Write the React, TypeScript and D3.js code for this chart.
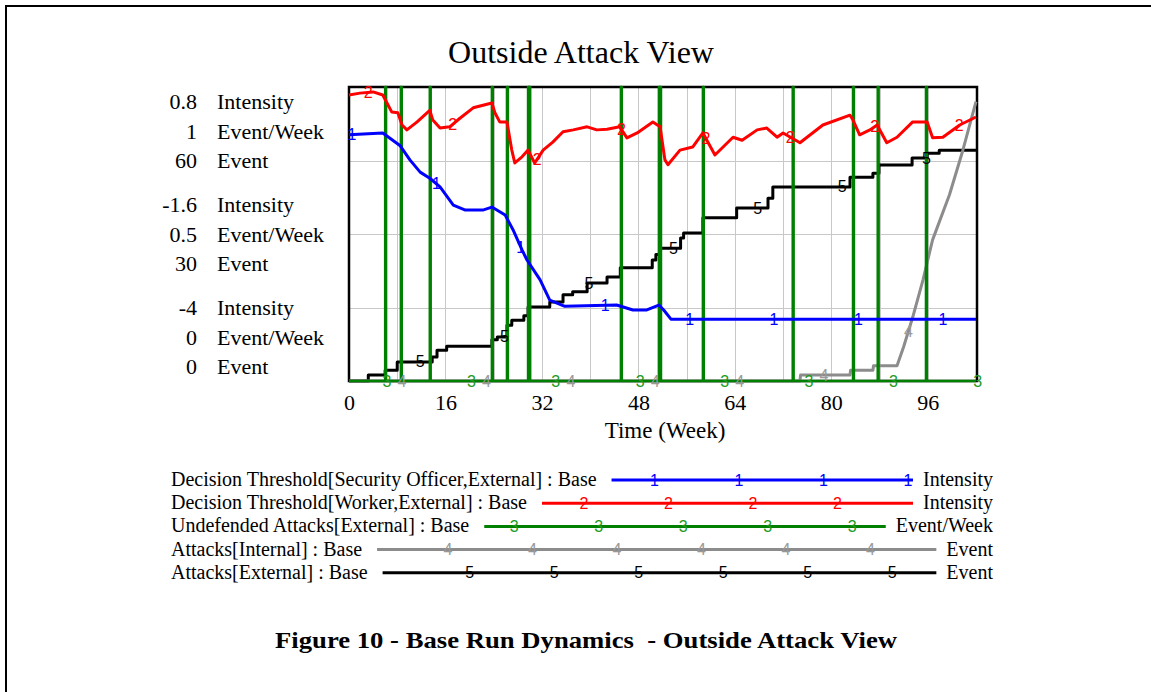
import React, { useEffect, useRef } from "react";
import * as d3 from "d3";

type Pt = [number, number];

// time axis (weeks)
const weekTicks = [0, 16, 32, 48, 64, 80, 96];
const weekEnd = 104;

// left axis: three stacked scales
const intensityTicks = ["0.8", "-1.6", "-4"];
const rateTicks = ["1", "0.5", "0"];
const eventTicks = ["60", "30", "0"];
const axisUnits = ["Intensity", "Event/Week", "Event"];

// 1: Decision Threshold[Security Officer,External] (Intensity)
const officerThreshold: Pt[] = [
  [0, 0.02], [5.6, 0.05], [8.5, -0.16], [10.1, -0.39], [11.8, -0.59], [13.4, -0.69],
  [15.1, -0.83], [17.3, -1.13], [19.3, -1.21], [22.2, -1.21], [23.7, -1.16], [25.9, -1.29],
  [27.2, -1.53], [28.7, -1.86], [29.5, -2.02], [31.7, -2.35], [33.3, -2.68], [35.8, -2.78],
  [44.4, -2.76], [47.1, -2.84], [49.4, -2.84], [51.4, -2.76], [52.2, -2.84], [53.4, -2.99],
  [104, -2.99],
];

// 2: Decision Threshold[Worker,External] (Intensity)
const workerThreshold: Pt[] = [
  [0, 0.67], [1.8, 0.7], [4.0, 0.72], [5.6, 0.67], [6.3, 0.54], [7.1, 0.39], [8.1, 0.38],
  [8.8, 0.18], [9.6, 0.1], [11.3, 0.23], [13.4, 0.42], [13.9, 0.26], [15.1, 0.13], [16.7, 0.15],
  [18.4, 0.29], [20.6, 0.46], [23.7, 0.54], [24.2, 0.38], [25.0, 0.23], [26.2, 0.23],
  [27.0, -0.23], [27.5, -0.44], [28.7, -0.34], [29.7, -0.23], [30.8, -0.44], [32.2, -0.23],
  [33.8, -0.1], [35.5, 0.07], [37.2, 0.1], [39.5, 0.15], [41.1, 0.1], [42.8, 0.11], [44.9, 0.15],
  [46.1, -0.03], [47.8, 0.05], [50.4, 0.23], [51.6, 0.15], [52.4, -0.39], [52.9, -0.47],
  [54.9, -0.23], [57.0, -0.18], [58.7, 0.05], [60.7, -0.31], [63.7, -0.02], [65.2, -0.07],
  [67.7, 0.1], [69.3, 0.13], [71.0, -0.02], [72.0, 0.05], [74.8, -0.11], [78.6, 0.18],
  [83.1, 0.34], [83.6, 0.26], [84.7, 0.02], [86.4, 0.1], [87.6, 0.18], [89.2, -0.11],
  [90.9, -0.02], [93.5, 0.23], [95.9, 0.23], [96.8, -0.03], [98.5, -0.02], [101.3, 0.18],
  [104, 0.31],
];

// 3: Undefended Attacks[External] (Event/Week) - weeks with a one-step spike
const undefendedWeeks = [6.0, 8.6, 13.4, 23.7, 26.2, 29.7, 29.9, 45.1, 51.4, 51.6, 58.7, 73.6, 83.6, 87.7, 95.7];
const undefendedPeak = 1;

// 4: Attacks[Internal] (Event)
const attacksInternal: Pt[] = [
  [0, 0], [74.8, 0], [74.9, 1.2], [83.1, 1.2], [83.2, 2.2], [86.9, 2.2], [87.0, 3.1],
  [90.9, 3.1], [92.0, 7], [93.5, 13], [95.2, 20.6], [96.8, 28.8], [99.6, 38],
  [101.8, 47], [104, 57],
];

// 5: Attacks[External] (Event), stepwise
const attacksExternal: Pt[] = [
  [0, 0], [3.2, 1.2], [6.0, 2.2], [8.0, 3.9], [13.8, 4.9], [14.6, 6.3], [16.2, 7.1],
  [23.7, 8.4], [24.6, 9], [26.2, 11.4], [27.0, 12.4], [29.0, 13.3], [29.7, 15.1],
  [33.3, 16.1], [35.5, 17.6], [37.1, 18.2], [39.5, 20], [42.8, 21.2], [45.0, 23.1],
  [50.3, 24.7], [50.9, 25.8], [51.5, 27.1], [55.0, 29.2], [55.5, 30.2], [58.7, 33.3],
  [64.3, 35.3], [69.5, 37.3], [70.3, 39.6], [83.1, 41.6], [86.9, 42.4], [87.9, 44.1],
  [93.4, 45.5], [95.9, 46.5], [97.9, 47.1], [104, 47.1],
];

const legendNames = [
  "Decision Threshold[Security Officer,External] : Base",
  "Decision Threshold[Worker,External] : Base",
  "Undefended Attacks[External] : Base",
  "Attacks[Internal] : Base",
  "Attacks[External] : Base",
];
const legendUnits = ["Intensity", "Intensity", "Event/Week", "Event", "Event"];

const W = 1151;
const H = 692;
const serif = "'Liberation Serif', 'Times New Roman', serif";
const sans = "'Liberation Sans', Arial, sans-serif";

function valueAt(pts: Pt[], w: number, step: boolean) {
  for (let i = 0; i < pts.length - 1; i++) {
    const [x0, y0] = pts[i];
    const [x1, y1] = pts[i + 1];
    if (w >= x0 && w <= x1) {
      if (step) return w < x1 ? y0 : y1;
      return y0 + ((w - x0) / (x1 - x0 || 1)) * (y1 - y0);
    }
  }
  return pts[pts.length - 1][1];
}

export default function App() {
  const ref = useRef<SVGSVGElement>(null);

  useEffect(() => {
    const svg = d3.select(ref.current);
    svg.selectAll("*").remove();

    const left = 349, right = 977, top = 87, bottom = 381;
    const x = d3.scaleLinear().domain([0, weekEnd]).range([left, right - 1]);
    const yIntensity = d3.scaleLinear().domain([-4, 0.8]).range([bottom, top]);
    const yRate = d3.scaleLinear().domain([0, 1]).range([bottom, top]);
    const yEvent = d3.scaleLinear().domain([0, 60]).range([bottom, top]);

    // page frame (top and left edges)
    svg.append("line").attr("x1", 5).attr("x2", W).attr("y1", 6).attr("y2", 6)
      .attr("stroke", "#000").attr("stroke-width", 2);
    svg.append("line").attr("x1", 6).attr("x2", 6).attr("y1", 5).attr("y2", H)
      .attr("stroke", "#000").attr("stroke-width", 2);

    svg.append("text").attr("x", 581).attr("y", 63).attr("text-anchor", "middle")
      .style("font-family", serif).style("font-size", "32px").text("Outside Attack View");

    // grid
    const grid = svg.append("g").attr("stroke", "#c8c8c8").attr("stroke-width", 1);
    grid.selectAll("line.v").data(d3.range(8, weekEnd, 8)).join("line")
      .attr("class", "v")
      .attr("x1", (d) => Math.round(x(d)) + 0.5).attr("x2", (d) => Math.round(x(d)) + 0.5)
      .attr("y1", top).attr("y2", bottom);
    grid.selectAll("line.h").data([0.25, 0.5, 0.75]).join("line")
      .attr("class", "h")
      .attr("x1", left).attr("x2", right)
      .attr("y1", (d) => Math.round(yRate(d)) + 0.5).attr("y2", (d) => Math.round(yRate(d)) + 0.5);

    svg.append("rect").attr("x", left).attr("y", top).attr("width", right - left).attr("height", bottom - top)
      .attr("fill", "none").attr("stroke", "#000").attr("stroke-width", 2.5);

    // x axis
    const xAxis = svg.append("g").attr("transform", `translate(0,${bottom})`)
      .call(d3.axisBottom(x).tickValues(weekTicks).tickSize(0).tickPadding(13).tickFormat(d3.format("d")));
    xAxis.select(".domain").remove();
    xAxis.selectAll("text").style("font-family", serif).style("font-size", "22px").attr("fill", "#000");
    svg.append("text").attr("x", 665).attr("y", 438).attr("text-anchor", "middle")
      .style("font-family", serif).style("font-size", "23px").text("Time (Week)");

    // stacked left labels
    const groups = [intensityTicks, rateTicks, eventTicks];
    for (let g = 0; g < 3; g++) {
      for (let r = 0; r < 3; r++) {
        const yy = 109 + g * 103 + r * 29.5;
        svg.append("text").attr("x", 197).attr("y", yy).attr("text-anchor", "end")
          .style("font-family", serif).style("font-size", "22px").text(groups[r][g]);
        svg.append("text").attr("x", 217).attr("y", yy)
          .style("font-family", serif).style("font-size", "22px").text(axisUnits[r]);
      }
    }

    // green spike series
    const undefended: Pt[] = [[0, 0]];
    undefendedWeeks.forEach((w) => {
      undefended.push([w, 0], [w, undefendedPeak], [w + 0.15, undefendedPeak], [w + 0.15, 0]);
    });
    undefended.push([weekEnd, 0]);

    const series = [
      { id: "1", pts: officerThreshold, y: yIntensity, color: "#0000ff", mark: "#0000ff", width: 3, step: false, start: 0.5 },
      { id: "2", pts: workerThreshold, y: yIntensity, color: "#ff0000", mark: "#ff0000", width: 3, step: false, start: 3.2 },
      { id: "3", pts: undefended, y: yRate, color: "#008000", mark: "#1e9a1e", width: 2.5, step: false, start: 6.3 },
      { id: "4", pts: attacksInternal, y: yEvent, color: "#8c8c8c", mark: "#999999", width: 3, step: false, start: 8.8 },
      { id: "5", pts: attacksExternal, y: yEvent, color: "#000000", mark: "#000000", width: 3, step: true, start: 11.8 },
    ];

    svg.append("clipPath").attr("id", "plotclip").append("rect")
      .attr("x", left - 2).attr("y", top - 2).attr("width", right - left + 4).attr("height", bottom - top + 4);
    const plot = svg.append("g").attr("clip-path", "url(#plotclip)");

    // Vensim draws the last series first
    [...series].reverse().forEach((s) => {
      const line = d3.line<Pt>().x((d) => x(d[0])).y((d) => s.y(d[1]))
        .curve(s.step ? d3.curveStepAfter : d3.curveLinear);
      plot.append("path").datum(s.pts).attr("d", line).attr("fill", "none")
        .attr("stroke", s.color).attr("stroke-width", s.width).attr("stroke-linejoin", "round");
    });

    // number markers along each line, every 14 weeks
    series.forEach((s) => {
      const weeks = d3.range(s.start, weekEnd + 0.5, 14);
      svg.append("g").selectAll("text").data(weeks).join("text")
        .attr("x", (w) => x(w))
        .attr("y", (w) => s.y(valueAt(s.pts, w, s.step)))
        .attr("text-anchor", "middle").attr("dominant-baseline", "central")
        .style("font-family", sans).style("font-size", "16px").attr("fill", s.mark)
        .text(s.id);
    });

    // legend
    const firstMark = [43, 42, 30, 71, 87];
    legendNames.forEach((name, i) => {
      const base = 486 + i * 23.2;
      const label = svg.append("text").attr("x", 171).attr("y", base)
        .style("font-family", serif).style("font-size", "20px").text(name);
      const unit = svg.append("text").attr("x", 993).attr("y", base).attr("text-anchor", "end")
        .style("font-family", serif).style("font-size", "20px").text(legendUnits[i]);
      const labelEnd = 171 + (label.node() as SVGTextElement).getComputedTextLength();
      const unitStart = 993 - (unit.node() as SVGTextElement).getComputedTextLength();
      const x0 = labelEnd + 15;
      const x1 = unitStart - 10;
      const cy = base - 6;
      const s = series[i];
      svg.append("line").attr("x1", x0).attr("x2", x1).attr("y1", cy).attr("y2", cy)
        .attr("stroke", s.color).attr("stroke-width", 3);
      const marks = d3.range(x0 + firstMark[i], x1 + 1, 84.5);
      svg.append("g").selectAll("text").data(marks).join("text")
        .attr("x", (d) => d).attr("y", cy)
        .attr("text-anchor", "middle").attr("dominant-baseline", "central")
        .style("font-family", sans).style("font-size", "16px").attr("fill", s.mark)
        .text(s.id);
    });

    svg.append("text").attr("x", 586).attr("y", 648).attr("text-anchor", "middle")
      .attr("xml:space", "preserve").style("white-space", "pre")
      .attr("textLength", 622).attr("lengthAdjust", "spacingAndGlyphs")
      .style("font-family", serif).style("font-size", "24px").style("font-weight", "bold")
      .text("Figure 10 - Base Run Dynamics  - Outside Attack View");
  }, []);

  return (
    <svg
      ref={ref}
      width={W}
      height={H}
      style={{ position: "absolute", left: 0, top: 0, background: "#fff" }}
    />
  );
}
